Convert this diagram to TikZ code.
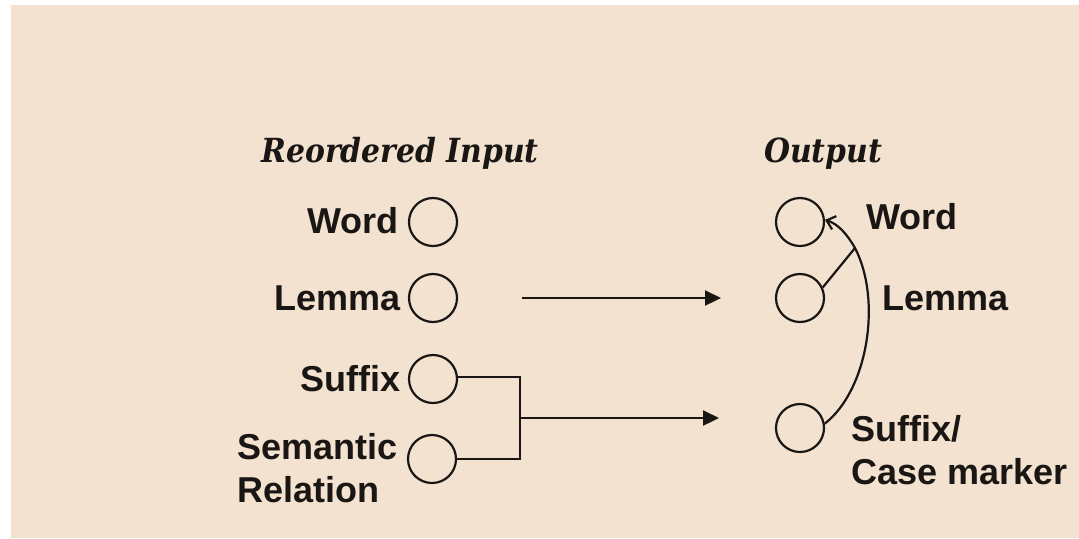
\documentclass[tikz,border=0pt]{standalone}
\usepackage{fontspec}
\setmainfont{Liberation Sans}
\newfontfamily\headfont{DejaVu Serif Condensed}
\usetikzlibrary{arrows.meta}
\definecolor{paper}{RGB}{243,226,207}
\definecolor{ink}{RGB}{25,22,20}
\begin{document}
\begin{tikzpicture}[x=0.5pt,y=-0.5pt,
  unit/.style={circle,draw=ink,line width=1.1pt,minimum size=24pt,inner sep=0pt},
  lab/.style={font=\fontsize{18}{21}\selectfont\bfseries,text=ink,inner sep=0pt},
  head/.style={font=\headfont\fontsize{16.6}{19}\selectfont\bfseries\itshape,text=ink,inner sep=0pt},
  wire/.style={draw=ink,line width=1.1pt},
  flow/.style={wire,-{Triangle[length=8pt,width=7.5pt]}}]
  % page and coloured panel
  \useasboundingbox (0,0) rectangle (1079,538);
  \fill[white] (0,0) rectangle (1079,538);
  \fill[paper] (11,5) rectangle (1079,538);

  % column headings
  \node[head,anchor=base] (hin) at (400,162) {Reordered Input};
  \node[head,anchor=base] (hout) at (823,162) {Output};

  % input units
  \node[unit] (i1) at (433,222) {};
  \node[unit] (i2) at (433,298) {};
  \node[unit] (i3) at (433,379) {};
  \node[unit] (i4) at (432,459) {};
  \node[lab,anchor=base east] (l1) at (399,233) {Word};
  \node[lab,anchor=base east] (l2) at (401,310) {Lemma};
  \node[lab,anchor=base east] (l3) at (401,391) {Suffix};
  \node[lab,anchor=base east,align=left] (l4) at (398,502) {Semantic\\[0.5pt]Relation};

  % output units
  \node[unit] (o1) at (800,222) {};
  \node[unit] (o2) at (800,298) {};
  \node[unit] (o3) at (800,428) {};
  \node[lab,anchor=base west] (r1) at (866,229) {Word};
  \node[lab,anchor=base west] (r2) at (882,310) {Lemma};
  \node[lab,anchor=base west,align=left] (r3) at (851,484) {Suffix/\\[0.5pt]Case marker};

  % lemma mapping
  \coordinate (a1) at (522,298);
  \coordinate (a2) at (721,298);
  \draw[flow] (a1) -- (a2);

  % suffix and relation merged
  \coordinate (b1) at (520,377);
  \coordinate (b2) at (520,459);
  \coordinate (b3) at (520,418);
  \coordinate (b4) at (719,418);
  \draw[wire] (i3.east |- b1) -- (b1) -- (b2) -- (i4.east);
  \draw[flow] (b3) -- (b4);

  % feedback into the word unit
  \coordinate (j) at (855,248);
  \draw[wire] (o2.25) -- (j);
  \draw[wire,-{Straight Barb[length=4pt,width=7pt]}]
    (o3.10) .. controls (868,390) and (882,300) .. (j)
    .. controls (847,234) and (838,224) .. (o1.5);
\end{tikzpicture}
\end{document}
